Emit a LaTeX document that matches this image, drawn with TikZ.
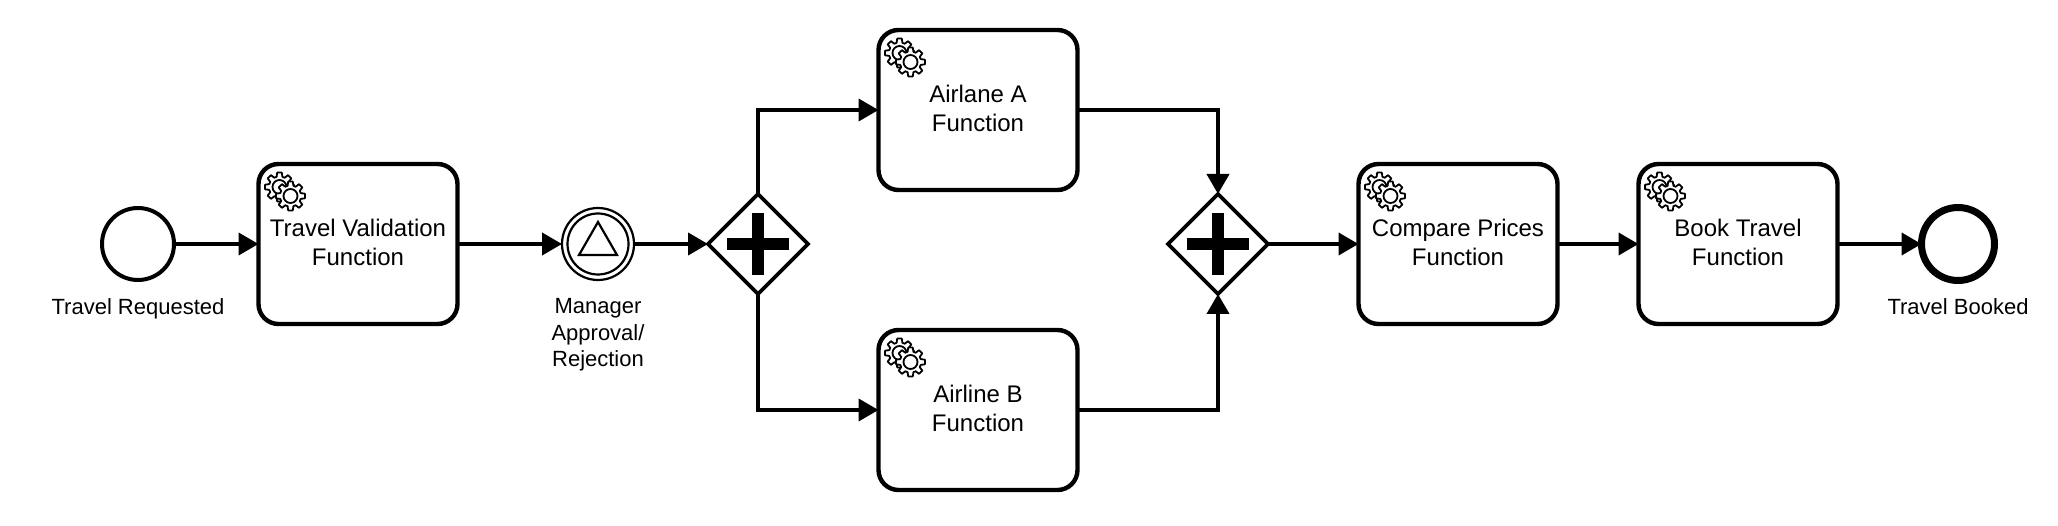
\documentclass[tikz,border=0pt]{standalone}
\usepackage{fontspec}
\setmainfont{Liberation Sans}
\usetikzlibrary{shapes.geometric,arrows.meta}
\newcommand{\tlift}{\rule[-2.6pt]{0pt}{0pt}}
\tikzset{
  every node/.style={inner sep=0pt,outer sep=0pt,text=black},
  taskbox/.style={draw,line width=4.4pt,rounded corners=20pt,minimum width=199pt,minimum height=160pt,align=center,fill=white,
    font=\fontsize{24}{29}\selectfont},
  evstart/.style={circle,draw,line width=4pt,minimum size=72pt},
  evend/.style={circle,draw,line width=7pt,minimum size=73pt},
  evinter/.style={circle,draw,line width=2.2pt,minimum size=72pt},
  evinner/.style={circle,draw,line width=2.2pt,minimum size=61pt},
  gatebox/.style={diamond,aspect=1,draw,line width=3.6pt,minimum width=100pt,minimum height=100pt,fill=white},
  lbl/.style={font=\fontsize{22}{26.7}\selectfont,align=center,anchor=north},
  flow/.style={line width=4pt,-{Triangle[length=20pt,width=22pt]}},
  gears/.pic={
    \foreach \cx/\cy in {21/23,32/32}{
      \begin{scope}[shift={(\cx,\cy)},draw=black,line width=1.8pt,line join=round]
        \path[draw,fill=white] (-16:10.6) \foreach \a in {0,45,...,315}{ -- (\a-16:10.6) -- (\a-9:14.6) -- (\a+9:14.6) -- (\a+16:10.6)} -- cycle;
        \draw (0,0) circle[radius=7pt];
      \end{scope}
    }
  }
}
\begin{document}
\begin{tikzpicture}[x=1pt,y=-1pt]
\useasboundingbox (0,0) rectangle (2058,526);
\fill[white] (0,0) rectangle (2058,526);
\node[evstart] (start) at (138,244) {};
\node[taskbox] (t1) at (358,244) {Travel Validation\\Function\tlift};
\node[evinter] (m) at (598,244) {};
\node[evinner] (mi) at (598,244) {};
\node[gatebox] (g1) at (758,244) {};
\node[taskbox] (ta) at (978,110) {Airlane A\\Function\tlift};
\node[taskbox] (tb) at (978,410) {Airline B\\Function\tlift};
\node[gatebox] (g2) at (1218,244) {};
\node[taskbox] (t2) at (1458,244) {Compare Prices\\Function\tlift};
\node[taskbox] (t3) at (1738,244) {Book Travel\\Function\tlift};
\node[evend] (end) at (1958,244) {};
% labels
\node[lbl] (l1) at (138,298.3) {Travel Requested};
\node[lbl] (l2) at (598,298.3) {Manager\\Approval/\\Rejection};
\node[lbl] (l3) at (1958,298.3) {Travel Booked};
% triangle in the intermediate event
\draw[line width=2.2pt,line join=miter] (598,222) -- (617,255) -- (579,255) -- cycle;
% plus markers
\foreach \g in {g1,g2}{
  \fill[black] (\g.center) ++(-31,-6) rectangle ++(62,12);
  \fill[black] (\g.center) ++(-6.3,-31) rectangle ++(12.6,62);
}
% service icons
\foreach \t in {t1,ta,tb,t2,t3}{ \pic at (\t.north west) {gears}; }
% flows
\draw[flow] (start) -- (t1);
\draw[flow] (t1) -- (m);
\draw[flow] (m) -- (g1);
\draw[flow] (g1.north) |- (ta.west);
\draw[flow] (g1.south) |- (tb.west);
\draw[flow] (ta.east) -| (g2.north);
\draw[flow] (tb.east) -| (g2.south);
\draw[flow] (g2) -- (t2);
\draw[flow] (t2) -- (t3);
\draw[flow] (t3) -- (end);
\end{tikzpicture}
\end{document}
